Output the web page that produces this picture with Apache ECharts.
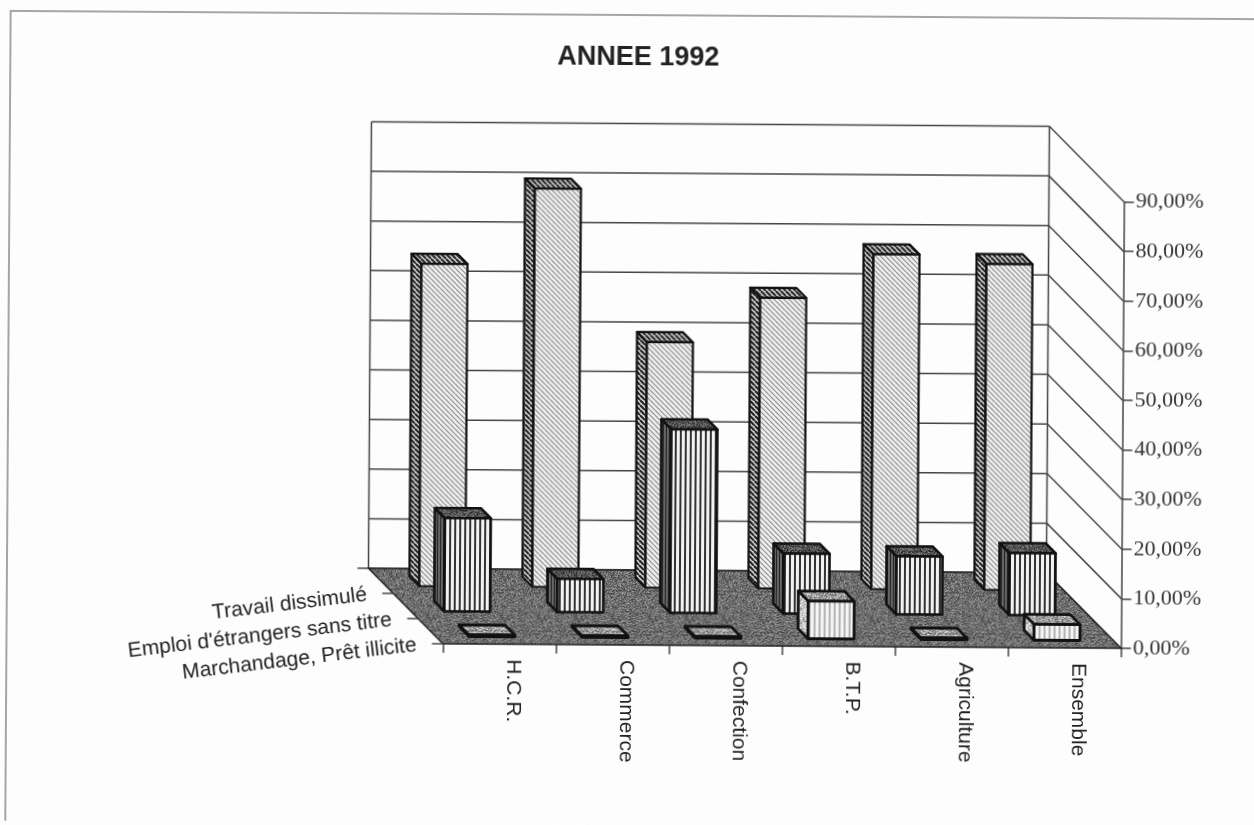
<!DOCTYPE html>
<html>
<head>
<meta charset="utf-8">
<title>ANNEE 1992</title>
<script src="https://cdn.jsdelivr.net/npm/echarts@6/dist/echarts.min.js"></script>
<style>
  html, body { margin: 0; padding: 0; width: 1254px; height: 825px; overflow: hidden; background: #fdfdfd; }
  #chart { width: 1254px; height: 825px; transform: rotate(0.38deg); transform-origin: 627px 412px; }
</style>
</head>
<body>
<div id="chart"></div>
<script>
// Chart content
const titleText = 'ANNEE 1992';
const categories = ['H.C.R.', 'Commerce', 'Confection', 'B.T.P.', 'Agriculture', 'Ensemble'];
const valueTicks = [0, 10, 20, 30, 40, 50, 60, 70, 80, 90];
const rowNames = ['Marchandage, Prêt illicite', "Emploi d'étrangers sans titre", 'Travail dissimulé'];
const marchandage = [0.3, 0.3, 0.3, 7.6, 0.3, 3.2];
const emploi = [18.8, 6.7, 37.0, 12.1, 11.7, 12.5];
const travail = [65.0, 80.3, 49.5, 58.6, 67.5, 65.7];

// Pseudo-3D depth of the plot box, in pixels
const DEPTH = 75;
const ROW_DEPTH = DEPTH / rowNames.length;
const BAR_DEPTH = 10;
const BAR_WIDTH_RATIO = 0.407;

// Texture tiles
function tile(w, h, paint) {
  const c = document.createElement('canvas');
  c.width = w; c.height = h;
  paint(c.getContext('2d'), w, h);
  return { image: c, repeat: 'repeat' };
}
function diagonal(bg, fg, period, lw) {
  return tile(period, period, (g, w, h) => {
    g.fillStyle = bg; g.fillRect(0, 0, w, h);
    g.strokeStyle = fg; g.lineWidth = lw;
    for (let k = -1; k <= 1; k++) {
      g.beginPath();
      g.moveTo(k * w, 0);
      g.lineTo(k * w + w, h);
      g.stroke();
    }
  });
}
function vertical(bg, fg, period, lw) {
  return tile(period, 4, (g, w, h) => {
    g.fillStyle = bg; g.fillRect(0, 0, w, h);
    g.fillStyle = fg; g.fillRect(0, 0, lw, h);
  });
}
function speckle(base, light, dark) {
  return tile(37, 41, (g, w, h) => {
    g.fillStyle = base; g.fillRect(0, 0, w, h);
    for (let y = 0; y < h; y++) {
      for (let x = 0; x < w; x++) {
        const n = (x * x * x * 3 + y * y * 17 + x * y * 5 + (x ^ y) * 11 + 3 * y) % 13;
        if (n === 0 || n === 4 || n === 7) { g.fillStyle = light; g.fillRect(x, y, 1, 1); }
        if (n === 2 || n === 9 || n === 11) { g.fillStyle = dark; g.fillRect(x, y, 1, 1); }
      }
    }
  });
}

const floorFill = speckle('#6e6e6e', '#989898', '#484848');
const rowStyles = [
  { front: vertical('#f4f4f4', '#b4b4b4', 5, 2), side: speckle('#cccccc', '#f0f0f0', '#909090'), top: speckle('#a0a0a0', '#d8d8d8', '#666666'), border: 2.8 },
  { front: vertical('#f2f2f2', '#333333', 5, 2), side: vertical('#666666', '#222222', 3, 1), top: speckle('#565656', '#808080', '#2a2a2a'), border: 2.6 },
  { front: diagonal('#f0f0f0', '#8c8c8c', 5, 1.2), side: diagonal('#dddddd', '#222222', 5, 2.2), top: diagonal('#cccccc', '#2a2a2a', 5, 2), border: 2.2 }
];

const LINE = '#444444';
const INK = '#111111';

// Walls, floor and the depth scale on the left edge of the floor
function renderPlot(params, api) {
  const cs = params.coordSys;
  const left = cs.x, right = cs.x + cs.width;
  const y0 = api.coord([0, 0])[1];
  const yTop = api.coord([0, valueTicks[valueTicks.length - 1]])[1];
  const kids = [];
  const seg = (x1, y1, x2, y2, w) => ({
    type: 'line', shape: { x1, y1, x2, y2 }, style: { stroke: LINE, lineWidth: w || 1.5 }
  });
  valueTicks.forEach((v) => {
    const y = api.coord([0, v])[1];
    kids.push(seg(left - DEPTH, y - DEPTH, right - DEPTH, y - DEPTH));
    kids.push(seg(right - DEPTH, y - DEPTH, right, y));
  });
  kids.push(seg(left - DEPTH, y0 - DEPTH, left - DEPTH, yTop - DEPTH));
  kids.push(seg(right - DEPTH, y0 - DEPTH, right - DEPTH, yTop - DEPTH));
  kids.push({
    type: 'polygon',
    shape: { points: [[left, y0], [right, y0], [right - DEPTH, y0 - DEPTH], [left - DEPTH, y0 - DEPTH]] },
    style: { fill: floorFill, stroke: '#222222', lineWidth: 1.5 }
  });
  for (let i = 0; i <= rowNames.length; i++) {
    const d = i * ROW_DEPTH;
    kids.push(seg(left - d - 11, y0 - d, left - d, y0 - d));
  }
  rowNames.forEach((name, i) => {
    const d = (i + 0.5) * ROW_DEPTH;
    kids.push({
      type: 'text',
      x: left - d - 14, y: y0 - d + 14,
      rotation: 7.2 * Math.PI / 180,
      style: { text: name, align: 'right', verticalAlign: 'middle', fill: '#222', font: '21px "Liberation Sans"' }
    });
  });
  return { type: 'group', children: kids };
}

// One pseudo-3D column: front, left side and top faces
function renderBar(row) {
  const look = rowStyles[row];
  return function (params, api) {
    const cat = api.value(0), val = api.value(1);
    const band = api.size([1, 0])[0];
    const w = band * BAR_WIDTH_RATIO;
    const off = (row + 0.5) * ROW_DEPTH - BAR_DEPTH / 2;
    const base = api.coord([cat, 0]);
    const top = api.coord([cat, val]);
    const x0 = base[0] - w / 2 - off, x1 = x0 + w;
    const yb = base[1] - off, yt = top[1] - off;
    const border = { stroke: INK, lineWidth: look.border, lineJoin: 'round' };
    return {
      type: 'group',
      children: [
        { type: 'polygon', shape: { points: [[x0, yb], [x0 - BAR_DEPTH, yb - BAR_DEPTH], [x0 - BAR_DEPTH, yt - BAR_DEPTH], [x0, yt]] }, style: Object.assign({ fill: look.side }, border) },
        { type: 'polygon', shape: { points: [[x0, yt], [x0 - BAR_DEPTH, yt - BAR_DEPTH], [x1 - BAR_DEPTH, yt - BAR_DEPTH], [x1, yt]] }, style: Object.assign({ fill: look.top }, border) },
        { type: 'rect', shape: { x: x0, y: yt, width: w, height: yb - yt }, style: Object.assign({ fill: look.front }, border) }
      ]
    };
  };
}

function rowSeries(row, name, values) {
  return {
    type: 'custom', name: name, z: 3 + (rowNames.length - row),
    coordinateSystem: 'cartesian2d', clip: false, silent: true,
    renderItem: renderBar(row),
    data: values.map((v, i) => [i, v]),
    encode: { x: 0, y: 1 }
  };
}

const chart = echarts.init(document.getElementById('chart'), null, { renderer: 'canvas' });
chart.setOption({
  animation: false,
  backgroundColor: '#fdfdfd',
  title: {
    text: titleText, left: 631, top: 39, textAlign: 'center',
    textStyle: { fontFamily: 'Liberation Sans', fontSize: 27, fontWeight: 'bold', color: '#222' }
  },
  graphic: [
    { type: 'polyline', silent: true, z: 0, shape: { points: [[1254, 826.5], [8, 826.5], [8, 15], [1254, 15]] }, style: { stroke: '#888', lineWidth: 1.5, fill: null } }
  ],
  grid: { left: 444.5, right: 131.5, top: 198.5, bottom: 180 },
  xAxis: {
    type: 'category', data: categories, boundaryGap: true,
    axisLine: { show: false },
    axisTick: { show: true, length: 9, lineStyle: { color: LINE, width: 1.5 } },
    axisLabel: {
      rotate: -90, margin: 15, color: '#222', interval: 0, verticalAlign: 'bottom', lineHeight: 27,
      fontFamily: 'Liberation Sans', fontSize: 21
    },
    splitLine: { show: false }
  },
  yAxis: {
    type: 'value', position: 'right', min: 0, max: 90, interval: 10,
    axisLine: { show: true, lineStyle: { color: LINE, width: 1.5 } },
    axisTick: { show: true, length: 10, lineStyle: { color: LINE, width: 1.5 } },
    axisLabel: {
      margin: 12, color: '#333', fontFamily: 'Liberation Serif', fontSize: 22,
      formatter: (v) => v.toFixed(2).replace('.', ',') + '%'
    },
    splitLine: { show: false }
  },
  series: [
    {
      type: 'custom', name: 'plot', z: 1, coordinateSystem: 'cartesian2d', clip: false, silent: true,
      renderItem: renderPlot, data: [[0, 0]], encode: { x: 0, y: 1 }
    },
    rowSeries(2, rowNames[2], travail),
    rowSeries(1, rowNames[1], emploi),
    rowSeries(0, rowNames[0], marchandage)
  ]
});
</script>
</body>
</html>
